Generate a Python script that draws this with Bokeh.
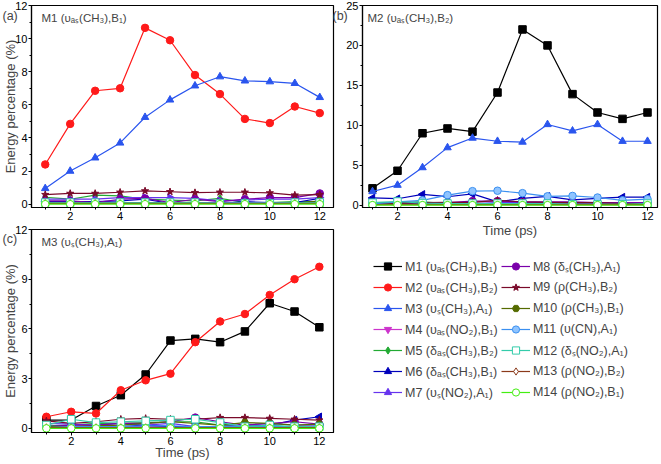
import numpy as np
from bokeh.plotting import figure
from bokeh.layouts import row, column
from bokeh.models import Label, Legend, LegendItem, SingleIntervalTicker, Range1d, GridBox
from bokeh.embed import file_html
from bokeh.resources import INLINE

time = list(range(1, 13))

labels = ["M1 (υₐₛ(CH₃),B₁)", "M2 (υₐₛ(CH₃),B₂)", "M3 (υₛ(CH₃),A₁)",
          "M4 (υₐₛ(NO₂),B₁)", "M5 (δₐₛ(CH₃),B₂)", "M6 (δₐₛ(CH₃),B₁)",
          "M7 (υₛ(NO₂),A₁)", "M8 (δₛ(CH₃),A₁)", "M9 (ρ(CH₃),B₂)",
          "M10 (ρ(CH₃),B₁)", "M11 (υ(CN),A₁)", "M12 (δₛ(NO₂),A₁)",
          "M13 (ρ(NO₂),B₂)", "M14 (ρ(NO₂),B₁)"]
panel_tags = ["(a)", "(b)", "(c)"]
colors = ["#000000", "#ff1a1a", "#2a55ee", "#cc33cc", "#22aa33", "#0000bb", "#6633ee",
          "#7a00aa", "#7a0a2a", "#556b00", "#3a8ff0", "#33ccaa", "#8b3a1a", "#44ee11"]
markers = ["square", "circle", "triangle", "inverted_triangle", "diamond", "triangle", "triangle",
           "circle", "star", "hex", "circle", "square", "diamond", "circle"]
angles = [0, 0, 0, 0, 0, np.pi / 2, -np.pi / 2, 0, 0, 0, 0, 0, 0, 0]
fills = ["#000000", "#ff1a1a", "#2a55ee", "#cc33cc", "#22aa33", "#0000bb", "#6633ee",
         "#7a00aa", "#7a0a2a", "#556b00", "#8fc4ff", "#ffffff", "#ffffff", "#ffffff"]

# Panel (a): M1 (vas(CH3),B1) -- energy of other modes
a_series = {
    "M2": [2.4, 4.85, 6.85, 7.0, 10.65, 9.9, 7.8, 6.65, 5.15, 4.9, 5.9, 5.5],
    "M3": [0.95, 2.0, 2.8, 3.7, 5.25, 6.3, 7.15, 7.7, 7.45, 7.4, 7.3, 6.45],
    "M4": [0.05, 0.05, 0.1, 0.1, 0.05, 0.05, 0.05, 0.05, 0.05, 0.05, 0.05, 0.1],
    "M5": [0.42, 0.3, 0.55, 0.5, 0.3, 0.25, 0.2, 0.35, 0.1, 0.1, 0.15, 0.15],
    "M6": [0.15, 0.15, 0.15, 0.2, 0.3, 0.05, 0.05, 0.05, 0.15, 0.1, 0.1, 0.35],
    "M7": [0.3, 0.3, 0.3, 0.4, 0.4, 0.4, 0.35, 0.2, 0.25, 0.3, 0.3, 0.4],
    "M8": [0.2, 0.2, 0.1, 0.3, 0.35, 0.1, 0.3, 0.15, 0.3, 0.4, 0.4, 0.65],
    "M9": [0.58, 0.65, 0.65, 0.72, 0.8, 0.75, 0.7, 0.72, 0.72, 0.68, 0.55, 0.58],
    "M10": [0.05, 0.05, 0.05, 0.05, 0.05, 0.05, 0.05, 0.05, 0.1, 0.05, 0.05, 0.2],
    "M11": [0.05, 0.1, 0.1, 0.1, 0.1, 0.1, 0.1, 0.1, 0.1, 0.1, 0.1, 0.1],
    "M12": [0.1, 0.1, 0.1, 0.1, 0.1, 0.1, 0.1, 0.05, 0.05, 0.05, 0.1, 0.1],
    "M13": [0.05, 0.05, 0.05, 0.05, 0.05, 0.05, 0.05, 0.05, 0.05, 0.05, 0.05, 0.05],
    "M14": [0.0, 0.0, 0.0, 0.0, 0.0, 0.0, 0.0, 0.0, 0.0, 0.0, 0.0, 0.0],
}
# Panel (b): M2 (vas(CH3),B2)
b_series = {
    "M1": [2.1, 4.3, 9.0, 9.6, 9.2, 14.1, 22.0, 20.0, 13.9, 11.6, 10.8, 11.6],
    "M3": [1.7, 2.5, 4.7, 7.2, 8.4, 8.0, 7.9, 10.1, 9.3, 10.1, 8.0, 8.0],
    "M4": [0.1, 0.1, 0.1, 0.1, 0.1, 0.1, 0.1, 0.1, 0.1, 0.1, 0.1, 0.1],
    "M5": [0.3, 0.35, 0.4, 0.2, 0.2, 0.2, 0.2, 0.2, 0.1, 0.1, 0.1, 0.1],
    "M6": [0.9, 0.8, 1.35, 1.05, 1.4, 0.4, 0.85, 1.1, 0.65, 0.85, 1.0, 1.0],
    "M7": [0.2, 0.2, 0.3, 0.2, 0.2, 0.3, 0.3, 0.3, 0.2, 0.2, 0.2, 0.3],
    "M8": [0.1, 0.2, 0.2, 0.3, 0.5, 0.5, 0.4, 0.4, 0.4, 0.3, 0.3, 0.3],
    "M9": [0.2, 0.25, 0.3, 0.35, 0.35, 0.6, 0.4, 0.35, 0.3, 0.3, 0.2, 0.2],
    "M10": [0.1, 0.1, 0.1, 0.1, 0.1, 0.1, 0.1, 0.1, 0.1, 0.1, 0.1, 0.1],
    "M11": [0.15, 0.4, 0.6, 1.25, 1.75, 1.8, 1.5, 1.1, 1.15, 0.95, 0.6, 0.75],
    "M12": [0.3, 0.45, 0.25, 0.2, 0.2, 0.2, 0.2, 0.2, 0.1, 0.1, 0.1, 0.2],
    "M13": [0.05, 0.05, 0.05, 0.05, 0.05, 0.05, 0.05, 0.05, 0.05, 0.05, 0.05, 0.05],
    "M14": [0.0, 0.0, 0.0, 0.0, 0.0, 0.0, 0.0, 0.0, 0.0, 0.0, 0.0, 0.0],
}
# Panel (c): M3 (vs(CH3),A1)
c_series = {
    "M1": [0.5, 0.5, 1.35, 2.0, 3.25, 5.3, 5.4, 5.2, 5.85, 7.55, 7.05, 6.1],
    "M2": [0.7, 1.0, 0.9, 2.3, 2.9, 3.3, 5.2, 6.45, 6.9, 8.05, 9.0, 9.75],
    "M4": [0.05, 0.05, 0.05, 0.1, 0.1, 0.1, 0.05, 0.05, 0.05, 0.05, 0.05, 0.05],
    "M5": [0.15, 0.2, 0.3, 0.3, 0.35, 0.4, 0.4, 0.2, 0.15, 0.1, 0.1, 0.1],
    "M6": [0.05, 0.1, 0.15, 0.1, 0.2, 0.1, 0.1, 0.05, 0.1, 0.2, 0.5, 0.7],
    "M7": [0.3, 0.25, 0.2, 0.3, 0.2, 0.3, 0.1, 0.1, 0.2, 0.3, 0.2, 0.2],
    "M8": [0.1, 0.2, 0.2, 0.3, 0.3, 0.4, 0.65, 0.4, 0.2, 0.3, 0.4, 0.25],
    "M9": [0.45, 0.3, 0.4, 0.55, 0.6, 0.55, 0.55, 0.65, 0.65, 0.6, 0.55, 0.5],
    "M10": [0.1, 0.1, 0.15, 0.2, 0.3, 0.4, 0.3, 0.2, 0.35, 0.3, 0.2, 0.25],
    "M11": [0.05, 0.1, 0.1, 0.1, 0.15, 0.15, 0.1, 0.1, 0.1, 0.1, 0.1, 0.1],
    "M12": [0.2, 0.55, 0.35, 0.4, 0.45, 0.5, 0.55, 0.35, 0.1, 0.2, 0.1, 0.1],
    "M13": [0.05, 0.05, 0.05, 0.05, 0.05, 0.05, 0.05, 0.05, 0.05, 0.05, 0.05, 0.05],
    "M14": [0.0, 0.0, 0.0, 0.0, 0.0, 0.0, 0.0, 0.0, 0.0, 0.0, 0.0, 0.0],
}

FONT = "Liberation Sans"
names = ["M%d" % (i + 1) for i in range(14)]


def make_panel(series, title, width, height, borders, xr, yr, yint,
               ylabel=None, xlabel=None, title_dx=10, xlab_standoff=0):
    p = figure(width=width, height=height, output_backend="svg", toolbar_location=None,
               x_range=Range1d(*xr), y_range=Range1d(*yr),
               min_border_left=borders[0], min_border_right=borders[1],
               min_border_top=borders[2], min_border_bottom=borders[3])
    p.grid.visible = False
    p.outline_line_color = "black"
    p.outline_line_width = 1.2
    p.xaxis.ticker = SingleIntervalTicker(interval=2, num_minor_ticks=2)
    p.yaxis.ticker = SingleIntervalTicker(interval=yint, num_minor_ticks=2)
    for ax in p.axis:
        ax.axis_line_color = "black"
        ax.axis_line_width = 1.2
        ax.major_tick_out = 3
        ax.major_tick_in = 0
        ax.minor_tick_out = 2
        ax.minor_tick_in = 0
        ax.major_label_standoff = 1
        ax.major_label_text_font = FONT
        ax.major_label_text_font_size = "11px"
        ax.major_label_text_color = "black"
        ax.axis_label_text_font = FONT
        ax.axis_label_text_font_size = "13px"
        ax.axis_label_text_font_style = "normal"
    p.yaxis.axis_label_standoff = -6
    p.xaxis.axis_label_standoff = xlab_standoff
    if ylabel:
        p.yaxis.axis_label = ylabel
    if xlabel:
        p.xaxis.axis_label = xlabel
    for i, nm in enumerate(names):
        if nm not in series:
            continue
        p.line(time, series[nm], line_color=colors[i], line_width=1.2)
        p.scatter(time, series[nm], marker=markers[i], angle=angles[i], size=7.5,
                  line_color=colors[i], fill_color=fills[i], line_width=1)
    p.add_layout(Label(x=xr[0], y=yr[1], x_offset=title_dx, y_offset=-12, text=title,
                       text_font=FONT, text_font_size="11.5px", text_baseline="middle",
                       text_align="left"))
    return p


pa = make_panel(a_series, labels[0], 335, 224, (30, 2, 5, 17),
                (0.45, 12.55), (-0.2, 12), 2, ylabel="Energy percentage (%)")
pc = make_panel(c_series, labels[2], 335, 240, (30, 2, 5, 32),
                (0.4, 12.57), (-0.25, 12), 3, ylabel="Energy percentage (%)",
                xlabel="Time (ps)", xlab_standoff=-3)
pb = make_panel(b_series, labels[1], 326, 245, (27, 4, 5, 38),
                (0.6, 12.4), (-0.3, 25), 5, xlabel="Time (ps)", title_dx=5)

# Legend panel
pl = figure(width=326, height=219, output_backend="svg", toolbar_location=None,
            x_range=Range1d(0, 1), y_range=Range1d(0, 1),
            x_axis_location=None, y_axis_location=None, min_border=0)
pl.grid.visible = False
pl.outline_line_color = None
items = []
for i, nm in enumerate(names):
    rl = pl.line([np.nan], [np.nan], line_color=colors[i], line_width=1.2)
    rs = pl.scatter([np.nan], [np.nan], marker=markers[i], angle=angles[i], size=7,
                    line_color=colors[i], fill_color=fills[i], line_width=1)
    items.append(LegendItem(label=labels[i], renderers=[rl, rs]))
leg = Legend(items=items, ncols=2, location=(11, 63), padding=0, margin=0,
             spacing=3, glyph_width=29, glyph_height=18, label_height=18,
             label_standoff=3, label_text_font=FONT, label_text_font_size="12.5px",
             border_line_alpha=0, background_fill_alpha=0)
pl.add_layout(leg, "center")

main = row(column(pa, pc), column(pb, pl))

# transparent overlay carrying the panel tags (a), (b), (c)
ov = figure(width=661, height=464, output_backend="svg", toolbar_location=None,
            x_range=Range1d(0, 661), y_range=Range1d(464, 0),
            x_axis_location=None, y_axis_location=None, min_border=0)
ov.grid.visible = False
ov.outline_line_color = None
ov.background_fill_alpha = 0
ov.border_fill_alpha = 0
tag_pos = [(2, 15), (332, 15), (2, 238)]
for t, (tx, ty) in zip(panel_tags, tag_pos):
    ov.add_layout(Label(x=tx, y=ty, text=t, text_font=FONT, text_font_size="12.5px",
                        text_baseline="middle", text_align="left"))

layout = GridBox(children=[(main, 0, 0), (ov, 0, 0)])
open("out.html", "w").write(file_html(layout, INLINE))
